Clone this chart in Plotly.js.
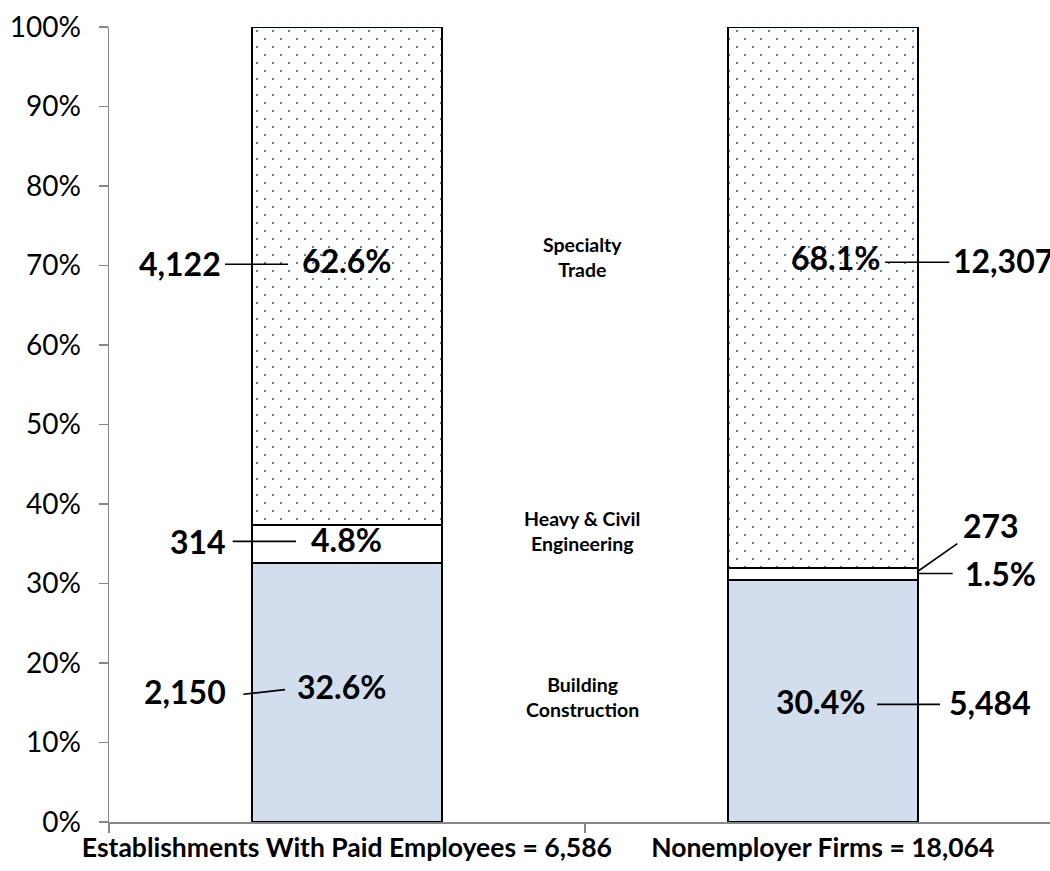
<!DOCTYPE html>
<html>
<head>
<meta charset="utf-8">
<script src="https://cdn.plot.ly/plotly-3.0.1.min.js"></script>
<style>
  html, body { margin: 0; padding: 0; background: #ffffff; }
  #chart { width: 1050px; height: 871px; }
</style>
</head>
<body>
<div id="chart"></div>
<script>
// Construction firms by subsector: establishments with paid employees vs nonemployer firms
const groupNames = ['Establishments With Paid Employees', 'Nonemployer Firms'];
const groupTotals = [6586, 18064];

const subsectors = ['Building Construction', 'Heavy & Civil Engineering', 'Specialty Trade'];

// Firm counts per subsector (one value per group)
const buildingCounts = [2150, 5484];
const heavyCounts = [314, 273];
const specialtyCounts = [4122, 12307];

// Share of each group's total, in percent
const buildingShare = [32.6, 30.4];
const heavyShare = [4.8, 1.5];
const specialtyShare = [62.6, 68.1];

const yTicks = [0, 10, 20, 30, 40, 50, 60, 70, 80, 90, 100];

const fmt = n => n.toLocaleString('en-US');
const pct = v => v.toFixed(1) + '%';
const categories = groupNames.map((g, i) => g + ' = ' + fmt(groupTotals[i]));

const FONT = 'Lato, "Open Sans", "DejaVu Sans", sans-serif';
const outline = { color: '#000000', width: 2 };

const traces = [
  {
    type: 'bar', name: subsectors[0], x: categories, y: buildingShare,
    width: 0.4, marker: { color: '#D2DEEE', line: outline }, hoverinfo: 'skip'
  },
  {
    type: 'bar', name: subsectors[1], x: categories, y: heavyShare,
    width: 0.4, marker: { color: '#FFFFFF', line: outline }, hoverinfo: 'skip'
  },
  {
    type: 'bar', name: subsectors[2], x: categories, y: specialtyShare,
    width: 0.4,
    marker: {
      color: '#FFFFFF', line: outline,
      pattern: { shape: '.', fgcolor: '#4F81BD', bgcolor: '#FFFFFF', size: 8, solidity: 0.05 }
    },
    hoverinfo: 'skip'
  }
];

const bold = (size) => ({ family: FONT, size: size, color: '#000000', weight: 'bold' });

function label(x, y, text, size, xanchor) {
  return { x: x, y: y, xref: 'x', yref: 'y', text: text, showarrow: false,
           xanchor: xanchor || 'center', yanchor: 'middle', font: bold(size) };
}

const annotations = [
  // Establishments with paid employees
  label(0, 70.6, pct(specialtyShare[0]), 32),
  label(-0.2604, 70.3, fmt(specialtyCounts[0]), 32, 'right'),
  label(0, 35.5, pct(heavyShare[0]), 32),
  label(-0.2499, 35.3, fmt(heavyCounts[0]), 32, 'right'),
  label(-0.01, 17.0, pct(buildingShare[0]), 32),
  label(-0.2493, 16.4, fmt(buildingCounts[0]), 32, 'right'),
  // Nonemployer firms
  label(1.0269, 71.0, pct(specialtyShare[1]), 32),
  label(1.2690, 70.6, fmt(specialtyCounts[1]), 32, 'left'),
  label(1.3533, 37.3, fmt(heavyCounts[1]), 32),
  label(1.2943, 31.2, pct(heavyShare[1]), 32, 'left'),
  label(0.9954, 15.2, pct(buildingShare[1]), 32),
  label(1.2612, 15.0, fmt(buildingCounts[1]), 32, 'left'),
  // Subsector names between the bars
  label(0.495, 71.1, 'Specialty<br>Trade', 19.5),
  label(0.495, 36.6, 'Heavy &amp; Civil<br>Engineering', 19.5),
  label(0.495, 15.7, 'Building<br>Construction', 19.5)
];

function leader(x0, y0, x1, y1) {
  return { type: 'line', xref: 'x', yref: 'y', x0: x0, y0: y0, x1: x1, y1: y1,
           line: { color: '#000000', width: 1.6 } };
}

const shapes = [
  leader(-0.2562, 70.15, -0.1238, 70.15),
  leader(-0.2400, 35.3, -0.1070, 35.3),
  leader(-0.2177, 16.06, -0.1301, 16.65),
  leader(1.1310, 70.4, 1.2661, 70.4),
  leader(1.2009, 31.57, 1.2829, 35.02),
  leader(1.2009, 31.25, 1.2732, 31.25),
  leader(1.1141, 14.8, 1.2465, 14.8)
];

const axisGrey = '#878787';

const layout = {
  width: 1050, height: 871,
  margin: { l: 109, r: 0, t: 27, b: 49, pad: 0 },
  paper_bgcolor: '#ffffff', plot_bgcolor: '#ffffff',
  barmode: 'stack', showlegend: false,
  font: { family: FONT, color: '#000000' },
  xaxis: {
    type: 'category', range: [-0.5, 1.4777], fixedrange: true,
    showline: true, linecolor: axisGrey, linewidth: 1.5,
    ticks: 'outside', tickson: 'boundaries', ticklen: 9, tickcolor: axisGrey, tickwidth: 1.5,
    tickangle: 0, ticklabelstandoff: 2,
    tickfont: { family: FONT, size: 26.5, color: '#000000', weight: 'bold' },
    showgrid: false, zeroline: false
  },
  yaxis: {
    range: [0, 100], fixedrange: true,
    tickvals: yTicks, ticktext: yTicks.map(v => v + '%'),
    showline: true, linecolor: axisGrey, linewidth: 1.5,
    ticks: 'outside', ticklen: 9, tickcolor: axisGrey, tickwidth: 1.5,
    ticklabelstandoff: 12,
    tickfont: { family: FONT, size: 28, color: '#000000' },
    showgrid: false, zeroline: false
  },
  annotations: annotations,
  shapes: shapes
};

// Staggered dot fill for the specialty-trade segments
function staggerDots() {
  const ns = 'http://www.w3.org/2000/svg';
  document.querySelectorAll('#chart defs pattern').forEach(p => {
    while (p.firstChild) p.removeChild(p.firstChild);
    p.setAttribute('width', 16);
    p.setAttribute('height', 16);
    const bg = document.createElementNS(ns, 'rect');
    bg.setAttribute('x', 0); bg.setAttribute('y', 0);
    bg.setAttribute('width', 16); bg.setAttribute('height', 16);
    bg.setAttribute('fill', '#FFFFFF');
    p.appendChild(bg);
    [[3, 3], [11, 11]].forEach(([cx, cy]) => {
      const d = document.createElementNS(ns, 'rect');
      d.setAttribute('x', cx); d.setAttribute('y', cy);
      d.setAttribute('width', 2); d.setAttribute('height', 2);
      d.setAttribute('fill', '#4F81BD');
      p.appendChild(d);
    });
  });
}

Plotly.newPlot('chart', traces, layout, { displayModeBar: false, staticPlot: true })
  .then(staggerDots);
</script>
</body>
</html>
